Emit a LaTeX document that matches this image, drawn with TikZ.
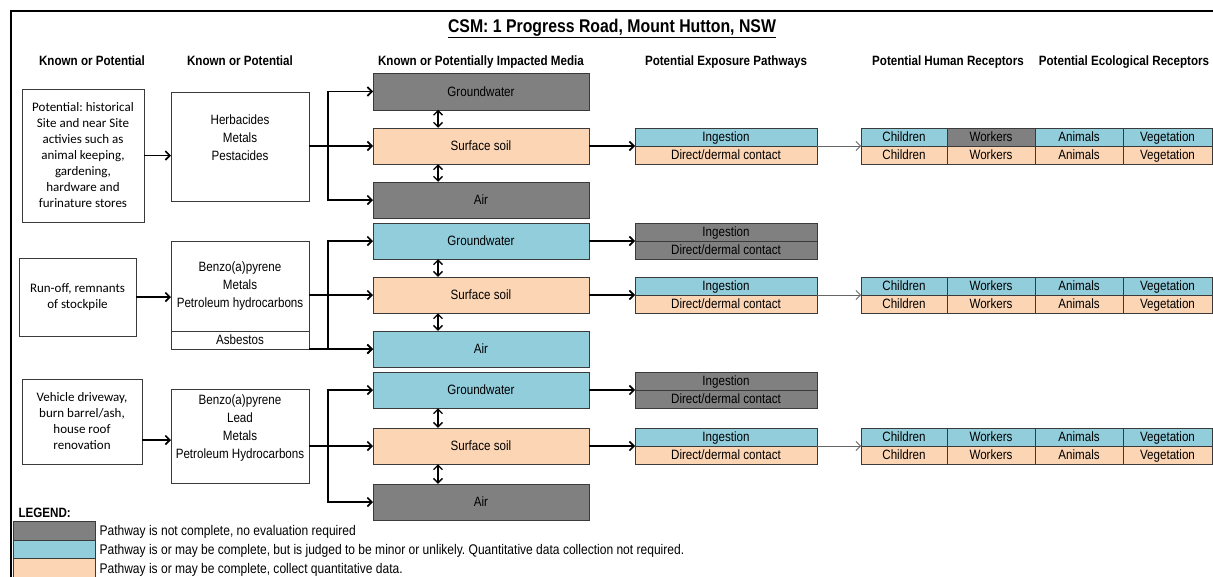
\documentclass[tikz,border=0pt]{standalone}
\usepackage{fontspec}
\setmainfont{Liberation Sans}[FakeStretch=0.86]
\newfontfamily\calfont{Carlito}
\usetikzlibrary{positioning, arrows.meta}
\definecolor{nogray}{HTML}{808080}
\definecolor{minorblue}{HTML}{92CDDC}
\definecolor{collectpeach}{HTML}{FCD5B4}
\definecolor{boxline}{HTML}{3A3A3A}
\frenchspacing
\tikzset{
  heading/.style={font=\fontsize{13.5}{16}\selectfont\bfseries, anchor=base},
  source/.style={
    draw=boxline, inner sep=0pt, outer sep=0pt,
    font=\calfont\fontsize{13}{16}\selectfont, align=center
  },
  agent/.style={draw=boxline, inner sep=0pt, outer sep=0pt, minimum width=138pt},
  agenttext/.style={font=\fontsize{13.5}{18}\selectfont, align=center},
  cell/.style={
    draw=boxline, inner sep=0pt, outer sep=0pt,
    font=\fontsize{13.5}{16}\selectfont,
    text height=11pt, text depth=1.3pt
  },
  media/.style={cell, minimum width=216pt, minimum height=36.5pt},
  route/.style={cell, minimum width=182pt, minimum height=18pt},
  receptor/.style={cell, minimum height=18pt},
  nocase/.style={fill=nogray},
  minor/.style={fill=minorblue},
  collect/.style={fill=collectpeach},
  feed/.style={->, line width=1.6pt},
  twoway/.style={<->, line width=1.3pt},
  link/.style={->, draw=black!60, line width=0.8pt},
  swatch/.style={draw=boxline, minimum width=82pt, minimum height=18.5pt, inner sep=0pt, outer sep=0pt},
  keytext/.style={anchor=base west, font=\fontsize{14}{16}\selectfont}
}
\begin{document}
\begin{tikzpicture}[x=1pt, y=-1pt, >={Straight Barb[length=4.5pt,width=9pt]}]
  \useasboundingbox (0,0) rectangle (1213,576);
  \draw[line width=2.2pt] (11,578) -- (11,11) -- (1215,11);

  % title and column headings
  \node[font=\fontsize{18.4}{20}\selectfont\bfseries, anchor=base] (title) at (612,32)
    {\underline{CSM: 1 Progress Road, Mount Hutton, NSW}};
  \node[heading] (h1) at (92,65) {Known or Potential};
  \node[heading] (h2) at (240,65) {Known or Potential};
  \node[heading] (h3) at (481,65) {Known or Potentially Impacted Media};
  \node[heading] (h4) at (726,65) {Potential Exposure Pathways};
  \node[heading] (h5) at (948,65) {Potential Human Receptors};
  \node[heading] (h6) at (1124,65) {Potential Ecological Receptors};

  % sources
  \node[source, minimum width=122pt, minimum height=133pt] (s1) at (83,155.5)
    {Potential: historical\\Site and near Site\\activies such as\\animal keeping,\\gardening,\\hardware and\\furinature stores};
  \node[source, minimum width=117pt, minimum height=78pt] (s2) at (77.5,297)
    {Run-off, remnants\\of stockpile};
  \node[source, minimum width=120pt, minimum height=85pt] (s3) at (82,421.5)
    {Vehicle driveway,\\burn barrel/ash,\\house roof\\renovation};

  % contaminants
  \node[agent, minimum height=109pt] (c1) at (240,146.5) {};
  \node[agenttext] (c1t) at (240,138) {Herbacides\\Metals\\Pestacides};
  \node[agent, minimum height=90pt, agenttext] (c2) at (240,286)
    {Benzo(a)pyrene\\Metals\\Petroleum hydrocarbons};
  \node[cell, agent, minimum height=18pt] (asb) at (240,340) {Asbestos};
  \node[agent, minimum height=94pt] (c3) at (240,436) {};
  \node[agenttext] (c3t) at (240,428) {Benzo(a)pyrene\\Lead\\Metals\\Petroleum Hydrocarbons};

  % impacted media
  \node[media, nocase] (gw1) at (481,91.5) {Groundwater};
  \node[media, collect] (soil1) at (481,146) {Surface soil};
  \node[media, nocase] (air1) at (481,200) {Air};
  \node[media, minor] (gw2) at (481,241) {Groundwater};
  \node[media, collect] (soil2) at (481,295) {Surface soil};
  \node[media, minor] (air2) at (481,349) {Air};
  \node[media, minor] (gw3) at (481,390) {Groundwater};
  \node[media, collect] (soil3) at (481,446) {Surface soil};
  \node[media, nocase] (air3) at (481,502) {Air};

  % exposure pathways
  \node[route, minor] (p1a) at (726,137) {Ingestion};
  \node[route, collect, below=0pt of p1a] (p1b) {Direct/dermal contact};
  \node[route, nocase] (g2a) at (726,232) {Ingestion};
  \node[route, nocase, below=0pt of g2a] (g2b) {Direct/dermal contact};
  \node[route, minor] (p2a) at (726,286) {Ingestion};
  \node[route, collect, below=0pt of p2a] (p2b) {Direct/dermal contact};
  \node[route, nocase] (g3a) at (726,381) {Ingestion};
  \node[route, nocase, below=0pt of g3a] (g3b) {Direct/dermal contact};
  \node[route, minor] (p3a) at (726,437) {Ingestion};
  \node[route, collect, below=0pt of p3a] (p3b) {Direct/dermal contact};

  % receptors
  \foreach \r/\yy/\wk in {1/137/nogray, 2/286/minorblue, 3/437/minorblue} {
    \node[receptor, minor, minimum width=86pt] (ch\r) at (904,\yy) {Children};
    \node[receptor, fill=\wk, minimum width=88pt, right=0pt of ch\r] (wk\r) {Workers};
    \node[receptor, minor, minimum width=88pt, right=0pt of wk\r] (an\r) {Animals};
    \node[receptor, minor, minimum width=89pt, right=0pt of an\r] (vg\r) {Vegetation};
    \node[receptor, collect, minimum width=86pt, below=0pt of ch\r] (chb\r) {Children};
    \node[receptor, collect, minimum width=88pt, below=0pt of wk\r] (wkb\r) {Workers};
    \node[receptor, collect, minimum width=88pt, below=0pt of an\r] (anb\r) {Animals};
    \node[receptor, collect, minimum width=89pt, below=0pt of vg\r] (vgb\r) {Vegetation};
  }

  % sources to contaminants
  \coordinate (s3o) at ([yshift=-18.5pt]s3.east);
  \draw[feed] (s1.east) -- (c1.west |- s1.east);
  \draw[feed] (s2.east) -- (c2.west |- s2.east);
  \draw[feed] (s3o) -- (c3.west |- s3o);

  % contaminants to media
  \coordinate (t1) at (328,146);
  \coordinate (t2) at (328,295);
  \coordinate (t3) at (328,446);
  \draw[feed] (c1.east |- soil1.west) -- (soil1.west);
  \draw[feed] (t1) |- (gw1.west);
  \draw[feed] (t1) |- (air1.west);
  \draw[feed] (c2.east |- soil2.west) -- (soil2.west);
  \draw[feed] (t2) |- (gw2.west);
  \draw[feed] (t2) |- (air2.west);
  \draw[feed] (asb.east |- air2.west) -- (air2.west);
  \draw[feed] (c3.east |- soil3.west) -- (soil3.west);
  \draw[feed] (t3) |- (gw3.west);
  \draw[feed] (t3) |- (air3.west);

  % exchange between media
  \draw[twoway] ([xshift=-43pt]gw1.south) -- ([xshift=-43pt]soil1.north);
  \draw[twoway] ([xshift=-43pt]soil1.south) -- ([xshift=-43pt]air1.north);
  \draw[twoway] ([xshift=-43pt]gw2.south) -- ([xshift=-43pt]soil2.north);
  \draw[twoway] ([xshift=-43pt]soil2.south) -- ([xshift=-43pt]air2.north);
  \draw[twoway] ([xshift=-43pt]gw3.south) -- ([xshift=-43pt]soil3.north);
  \draw[twoway] ([xshift=-43pt]soil3.south) -- ([xshift=-43pt]air3.north);

  % media to pathways
  \draw[feed] (soil1.east) -- (p1a.south west);
  \draw[feed] (gw2.east) -- (g2a.south west);
  \draw[feed] (soil2.east) -- (p2a.south west);
  \draw[feed] (gw3.east) -- (g3a.south west);
  \draw[feed] (soil3.east) -- (p3a.south west);

  % pathways to receptors
  \draw[link] (p1a.south east) -- (ch1.south west);
  \draw[link] (p2a.south east) -- (ch2.south west);
  \draw[link] (p3a.south east) -- (ch3.south west);

  % legend
  \node[font=\fontsize{13.5}{16}\selectfont\bfseries, anchor=base west] (legend) at (15,517) {LEGEND:};
  \node[swatch, nocase] (k1) at (54,530.5) {};
  \node[swatch, minor] (k2) at (54,549) {};
  \node[swatch, collect] (k3) at (54,567.5) {};
  \node[keytext] (k1t) at (96,535.5) {Pathway is not complete, no evaluation required};
  \node[keytext] (k2t) at (96,554.5)
    {Pathway is or may be complete, but is judged to be minor or unlikely. Quantitative data collection not required.};
  \node[keytext] (k3t) at (96,573) {Pathway is or may be complete, collect quantitative data.};
\end{tikzpicture}
\end{document}
